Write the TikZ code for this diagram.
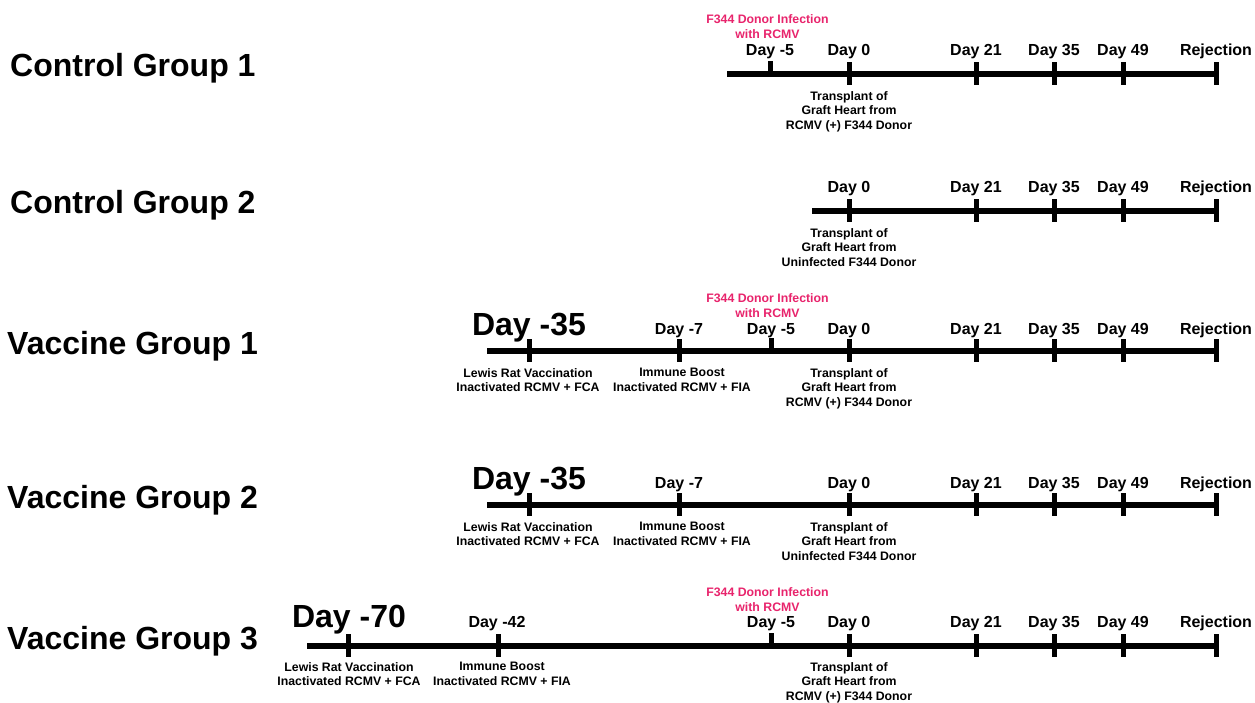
\documentclass[tikz,border=0pt]{standalone}
\usepackage{fontspec}
\setmainfont{Liberation Sans}
\definecolor{pinklbl}{RGB}{232,36,108}
\tikzset{
  tl/.style={line width=6pt, line cap=butt},
  tk/.style={line width=5pt, line cap=butt},
  grp/.style={font=\fontsize{32}{32}\selectfont\bfseries, anchor=base west, inner sep=0pt},
  daylbl/.style={font=\fontsize{16}{16}\selectfont\bfseries, anchor=base, inner sep=0pt},
  biglbl/.style={font=\fontsize{32}{32}\selectfont\bfseries, anchor=base, inner sep=0pt},
  note/.style={font=\fontsize{12.3}{14.8}\selectfont\bfseries, align=center, anchor=north, inner sep=0pt},
  pinknote/.style={font=\fontsize{12.3}{14.6}\selectfont\bfseries, align=center, anchor=north, inner sep=0pt, text=pinklbl},
}
\begin{document}
\begin{tikzpicture}[x=1pt,y=-1pt]
\useasboundingbox (0,0) rectangle (1255,702);

% ---------- Control Group 1 ----------
\node[grp] (g1) at (10,76) {Control Group 1};
\coordinate (a1s) at (727,74);
\coordinate (a1e) at (1218.5,74);
\draw[tl] (a1s) -- (a1e);
\foreach \n/\x/\t in {m5/770/Day -5, d0/849/Day 0, d21/976/Day 21, d35/1054/Day 35, d49/1123/Day 49, rj/1216/Rejection}{
  \node[daylbl] (a1\n) at (\x,55) {\t};
}
\foreach \n/\x in {d0/849, d21/976, d35/1054, d49/1123, rj/1216}{
  \coordinate (a1\n t) at (\x,62); \coordinate (a1\n b) at (\x,85);
  \draw[tk] (a1\n t) -- (a1\n b);
}
\coordinate (a1m5t) at (770,61); \coordinate (a1m5b) at (770,74);
\draw[tk] (a1m5t) -- (a1m5b);
\node[pinknote] (a1inf) at (767.5,14.5) {F344 Donor Infection\\with RCMV};
\node[note] (a1tx) at (849,91) {Transplant of\\Graft Heart from\\RCMV (+) F344 Donor};

% ---------- Control Group 2 ----------
\node[grp] (g2) at (10,213) {Control Group 2};
\coordinate (a2s) at (812,211);
\coordinate (a2e) at (1218.5,211);
\draw[tl] (a2s) -- (a2e);
\foreach \n/\x/\t in {d0/849/Day 0, d21/976/Day 21, d35/1054/Day 35, d49/1123/Day 49, rj/1216/Rejection}{
  \node[daylbl] (a2\n) at (\x,192) {\t};
  \coordinate (a2\n t) at (\x,199); \coordinate (a2\n b) at (\x,222);
  \draw[tk] (a2\n t) -- (a2\n b);
}
\node[note] (a2tx) at (849,228) {Transplant of\\Graft Heart from\\Uninfected F344 Donor};

% ---------- Vaccine Group 1 ----------
\node[grp] (g3) at (7,354) {Vaccine Group 1};
\coordinate (a3s) at (487,351);
\coordinate (a3e) at (1218.5,351);
\draw[tl] (a3s) -- (a3e);
\node[biglbl] (a3m35) at (529,335) {Day -35};
\foreach \n/\x/\t in {m7/679/Day -7, m5/771/Day -5, d0/849/Day 0, d21/976/Day 21, d35/1054/Day 35, d49/1123/Day 49, rj/1216/Rejection}{
  \node[daylbl] (a3\n) at (\x,334) {\t};
}
\foreach \n/\x in {m35/529, m7/679, d0/849, d21/976, d35/1054, d49/1123, rj/1216}{
  \coordinate (a3\n t) at (\x,339); \coordinate (a3\n b) at (\x,362);
  \draw[tk] (a3\n t) -- (a3\n b);
}
\coordinate (a3m5t) at (771,338); \coordinate (a3m5b) at (771,351);
\draw[tk] (a3m5t) -- (a3m5b);
\node[pinknote] (a3inf) at (767.5,293.5) {F344 Donor Infection\\with RCMV};
\node[note] (a3vac) at (528,368) {Lewis Rat Vaccination\\Inactivated RCMV + FCA};
\node[note] (a3bst) at (682,368) {Immune Boost\\Inactivated RCMV + FIA};
\node[note] (a3tx) at (849,368) {Transplant of\\Graft Heart from\\RCMV (+) F344 Donor};

% ---------- Vaccine Group 2 ----------
\node[grp] (g4) at (7,508) {Vaccine Group 2};
\coordinate (a4s) at (487,505);
\coordinate (a4e) at (1218.5,505);
\draw[tl] (a4s) -- (a4e);
\node[biglbl] (a4m35) at (529,489) {Day -35};
\foreach \n/\x/\t in {m7/679/Day -7, d0/849/Day 0, d21/976/Day 21, d35/1054/Day 35, d49/1123/Day 49, rj/1216/Rejection}{
  \node[daylbl] (a4\n) at (\x,488) {\t};
}
\foreach \n/\x in {m35/529, m7/679, d0/849, d21/976, d35/1054, d49/1123, rj/1216}{
  \coordinate (a4\n t) at (\x,493); \coordinate (a4\n b) at (\x,516);
  \draw[tk] (a4\n t) -- (a4\n b);
}
\node[note] (a4vac) at (528,522) {Lewis Rat Vaccination\\Inactivated RCMV + FCA};
\node[note] (a4bst) at (682,522) {Immune Boost\\Inactivated RCMV + FIA};
\node[note] (a4tx) at (849,522) {Transplant of\\Graft Heart from\\Uninfected F344 Donor};

% ---------- Vaccine Group 3 ----------
\node[grp] (g5) at (7,649) {Vaccine Group 3};
\coordinate (a5s) at (307,646);
\coordinate (a5e) at (1218.5,646);
\draw[tl] (a5s) -- (a5e);
\node[biglbl] (a5m70) at (349,627) {Day -70};
\foreach \n/\x/\t in {m42/497/Day -42, m5/771/Day -5, d0/849/Day 0, d21/976/Day 21, d35/1054/Day 35, d49/1123/Day 49, rj/1216/Rejection}{
  \node[daylbl] (a5\n) at (\x,627) {\t};
}
\foreach \n/\x in {m70/348, m42/498, d0/849, d21/976, d35/1054, d49/1123, rj/1216}{
  \coordinate (a5\n t) at (\x,634); \coordinate (a5\n b) at (\x,657);
  \draw[tk] (a5\n t) -- (a5\n b);
}
\coordinate (a5m5t) at (771,633); \coordinate (a5m5b) at (771,646);
\draw[tk] (a5m5t) -- (a5m5b);
\node[pinknote] (a5inf) at (767.5,587.5) {F344 Donor Infection\\with RCMV};
\node[note] (a5vac) at (349,662) {Lewis Rat Vaccination\\Inactivated RCMV + FCA};
\node[note] (a5bst) at (502,662) {Immune Boost\\Inactivated RCMV + FIA};
\node[note] (a5tx) at (849,662) {Transplant of\\Graft Heart from\\RCMV (+) F344 Donor};
\end{tikzpicture}
\end{document}
